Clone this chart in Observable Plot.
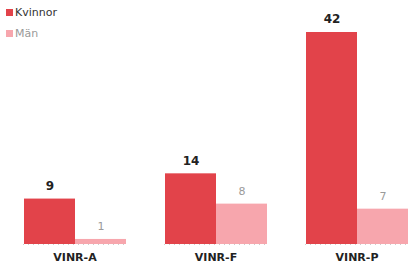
<!DOCTYPE html>
<html><head><meta charset="utf-8">
<script src="https://cdn.jsdelivr.net/npm/d3@7"></script>
<script src="https://cdn.jsdelivr.net/npm/@observablehq/plot@0.6"></script>
<style>
body{margin:0;background:#fff;font-family:"DejaVu Sans",sans-serif;}
#wrap{position:relative;width:409px;height:268px;overflow:hidden;}
#legend{position:absolute;left:6px;top:2px;font-size:11px;line-height:21px;}
#legend span.sw{display:inline-block;width:7px;height:7px;margin-right:2px;vertical-align:0px;}
</style></head><body>
<div id="wrap"><div id="legend"></div></div>
<script>
const categories = ["VINR-A", "VINR-F", "VINR-P"];
const series = ["Kvinnor", "Män"];
const kvinnor = [9, 14, 42];
const man = [1, 8, 7];
const colors = ["#e2434a", "#f7a6ad"];
const labelColors = ["#222222", "#9a9a9a"];

const data = [];
categories.forEach((c, i) => {
  data.push({cat: c, s: series[0], v: kvinnor[i]});
  data.push({cat: c, s: series[1], v: man[i]});
});
const dataK = data.filter(d => d.s === series[0]);
const dataM = data.filter(d => d.s === series[1]);

const chart = Plot.plot({
  width: 409, height: 268,
  marginLeft: 22, marginRight: 0, marginTop: 32, marginBottom: 24,
  style: {fontFamily: "DejaVu Sans, sans-serif", background: "#fff"},
  fx: {domain: categories, padding: 0.27, label: null, tickSize: 0},
  x: {domain: series, padding: 0, axis: null},
  y: {domain: [0, 42], axis: null},
  color: {domain: series, range: colors},
  marks: [
    Plot.ruleY(data, {fx: "cat", y: 0, stroke: "#cccccc", strokeDasharray: "1,4"}),
    Plot.barY(data, {fx: "cat", x: "s", y: "v", fill: "s", inset: 0}),
    Plot.text(dataK, {fx: "cat", x: "s", y: "v", text: d => String(d.v), dy: -13, fill: labelColors[0], fontSize: 12, fontWeight: "bold"}),
    Plot.text(dataM, {fx: "cat", x: "s", y: "v", text: d => String(d.v), dy: -13, fill: labelColors[1], fontSize: 11})
  ]
});
chart.querySelectorAll("g[aria-label='fx-axis tick label'] text, g[aria-label='fx-axis'] text").forEach(t => {
  t.setAttribute("font-weight", "bold");
  t.setAttribute("font-size", "11");
  t.setAttribute("fill", "#222");
});
document.getElementById("wrap").prepend(chart);
const leg = document.getElementById("legend");
series.forEach((s, i) => {
  const d = document.createElement("div");
  d.innerHTML = `<span class="sw" style="background:${colors[i]}"></span><span style="color:${i===0?'#333':'#999'}">${s}</span>`;
  leg.appendChild(d);
});
</script>
</body></html>
